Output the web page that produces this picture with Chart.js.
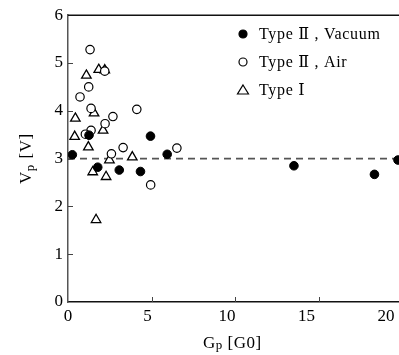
<!DOCTYPE html>
<html>
<head>
<meta charset="utf-8">
<script src="https://cdn.jsdelivr.net/npm/chart.js@4.4.1/dist/chart.umd.min.js"></script>
<style>
  html, body { margin: 0; padding: 0; background: #fff; overflow: hidden; }
  #wrap { width: 410px; height: 355px; }
</style>
</head>
<body>
<div id="wrap"><canvas id="vp-chart" width="410" height="355"></canvas></div>
<script>
// values
var vacuumX = [0.26, 1.26, 1.78, 3.07, 4.34, 4.94, 5.94, 13.53, 18.35, 19.76];
var vacuumY = [3.08, 3.49, 2.82, 2.76, 2.73, 3.47, 3.09, 2.85, 2.67, 2.97];
var airX = [1.32, 0.72, 1.24, 1.38, 2.22, 2.69, 4.12, 1.38, 1.04, 3.30, 2.60, 6.52, 4.95, 2.20];
var airY = [5.28, 4.29, 4.50, 4.05, 3.73, 3.88, 4.03, 3.59, 3.51, 3.23, 3.10, 3.22, 2.45, 4.83];
var type1X = [1.10, 1.84, 2.20, 1.56, 0.44, 0.40, 2.10, 1.22, 2.48, 3.85, 1.48, 2.28, 1.68];
var type1Y = [4.74, 4.86, 4.85, 3.95, 3.84, 3.46, 3.59, 3.24, 2.97, 3.03, 2.72, 2.62, 1.72];
var refLineX = [0, 20];
var refLineY = [3, 3];
var xTicks = [0, 5, 10, 15, 20];
var yTicks = [0, 1, 2, 3, 4, 5, 6];
var legendLabels = ['Type \u2161 , Vacuum', 'Type \u2161 , Air', 'Type \u2160'];

function pts(xs, ys) {
  return xs.map(function(x, i) { return {x: x, y: ys[i]}; });
}

var serif = '"Liberation Serif", "DejaVu Serif", serif';

// inward ticks, x labels, top frame line, legend, axis titles
var decor = {
  id: 'decor',
  afterDraw: function(chart) {
    var ctx = chart.ctx;
    var xs = chart.scales.x, ys = chart.scales.y;
    var a = chart.chartArea;
    ctx.save();
    ctx.strokeStyle = '#111';
    ctx.lineWidth = 1.5;
    ctx.beginPath();
    ctx.moveTo(a.left, a.top);
    ctx.lineTo(a.right + 10, a.top);
    ctx.stroke();

    ctx.strokeStyle = '#444';
    ctx.lineWidth = 1;
    yTicks.forEach(function(v) {
      if (v === 0 || v === 6) return;
      var py = Math.round(ys.getPixelForValue(v)) + 0.5;
      ctx.beginPath();
      ctx.moveTo(a.left, py);
      ctx.lineTo(a.left + 5, py);
      ctx.stroke();
    });
    ctx.fillStyle = '#000';
    ctx.font = '17px ' + serif;
    ctx.textAlign = 'center';
    ctx.textBaseline = 'top';
    xTicks.forEach(function(v) {
      var px = xs.getPixelForValue(v);
      if (v !== 0) {
        var p = Math.round(px) + 0.5;
        ctx.beginPath();
        ctx.moveTo(p, a.bottom);
        ctx.lineTo(p, a.bottom - 5);
        ctx.stroke();
      }
      // labels in the original sit a little left of their ticks
      ctx.fillText(String(v), px - 0.8 * v, a.bottom + 6);
    });

    // legend
    var lx = 243, ly = [34, 62, 90];
    ctx.font = '16px ' + serif;
    ctx.textAlign = 'left';
    ctx.textBaseline = 'middle';
    ctx.letterSpacing = '0.7px';
    chart.data.datasets.slice(0, 3).forEach(function(ds, i) {
      ctx.strokeStyle = '#000';
      ctx.lineWidth = 1.2;
      ctx.fillStyle = ds.backgroundColor;
      if (ds.pointStyle === 'triangle') {
        ctx.beginPath();
        ctx.moveTo(lx, ly[i] - 5);
        ctx.lineTo(lx + 5.5, ly[i] + 4);
        ctx.lineTo(lx - 5.5, ly[i] + 4);
        ctx.closePath();
        ctx.fill();
        ctx.stroke();
      } else {
        ctx.beginPath();
        ctx.arc(lx, ly[i], 4, 0, Math.PI * 2);
        ctx.fill();
        ctx.stroke();
      }
      ctx.fillStyle = '#000';
      ctx.fillText(legendLabels[i], lx + 16, ly[i] + 1);
    });

    // axis titles with subscripts
    ctx.letterSpacing = '0.5px';
    ctx.fillStyle = '#000';
    ctx.textBaseline = 'alphabetic';
    var gx = 203, gy = 348;
    ctx.font = '17px ' + serif;
    ctx.fillText('G', gx, gy);
    var w = ctx.measureText('G').width;
    ctx.font = '13px ' + serif;
    ctx.fillText('p', gx + w, gy + 1);
    w += ctx.measureText('p').width;
    ctx.font = '17px ' + serif;
    ctx.fillText(' [G0]', gx + w, gy);

    ctx.translate(31, 184);
    ctx.rotate(-Math.PI / 2);
    ctx.font = '17px ' + serif;
    ctx.fillText('V', 0, 0);
    w = ctx.measureText('V').width;
    ctx.font = '13px ' + serif;
    ctx.fillText('p', w, 3);
    w += ctx.measureText('p').width;
    ctx.font = '17px ' + serif;
    ctx.fillText(' [V]', w + 1, 0);
    ctx.restore();
  }
};

var ctxS = document.getElementById('vp-chart').getContext('2d');
var vpChart = new Chart(ctxS, {
  type: 'scatter',
  data: {
    datasets: [{
      label: legendLabels[0],
      data: pts(vacuumX, vacuumY),
      pointStyle: 'circle',
      pointRadius: 4.3,
      backgroundColor: '#000',
      borderColor: '#000',
      borderWidth: 1
    }, {
      label: legendLabels[1],
      data: pts(airX, airY),
      pointStyle: 'circle',
      pointRadius: 4.2,
      backgroundColor: '#fff',
      borderColor: '#000',
      borderWidth: 1.2
    }, {
      label: legendLabels[2],
      data: pts(type1X, type1Y),
      pointStyle: 'triangle',
      pointRadius: 5.5,
      backgroundColor: '#fff',
      borderColor: '#000',
      borderWidth: 1.3
    }, {
      label: 'ref',
      type: 'line',
      data: pts(refLineX, refLineY),
      borderColor: '#555',
      borderWidth: 1.6,
      borderDash: [7, 5],
      pointRadius: 0,
      fill: false,
      order: 10
    }]
  },
  options: {
    responsive: false,
    animation: false,
    layout: { padding: { top: 13, right: 8, left: 0, bottom: 0 } },
    plugins: { legend: { display: false }, tooltip: { enabled: false } },
    scales: {
      x: {
        type: 'linear',
        min: 0, max: 20,
        afterBuildTicks: function(s) { s.ticks = xTicks.map(function(v) { return {value: v}; }); },
        afterFit: function(s) { s.height = 53; },
        grid: { display: false, drawTicks: false },
        border: { display: true, color: '#111', width: 1.5 },
        ticks: { display: false }
      },
      y: {
        type: 'linear',
        min: 0, max: 6,
        afterBuildTicks: function(s) { s.ticks = yTicks.map(function(v) { return {value: v}; }); },
        afterFit: function(s) { s.width = 68; },
        grid: { display: false, drawTicks: false },
        border: { display: true, color: '#555', width: 1.5 },
        ticks: { color: '#000', padding: 5, font: { family: serif, size: 17 } }
      }
    }
  },
  plugins: [decor]
});
</script>
</body>
</html>
